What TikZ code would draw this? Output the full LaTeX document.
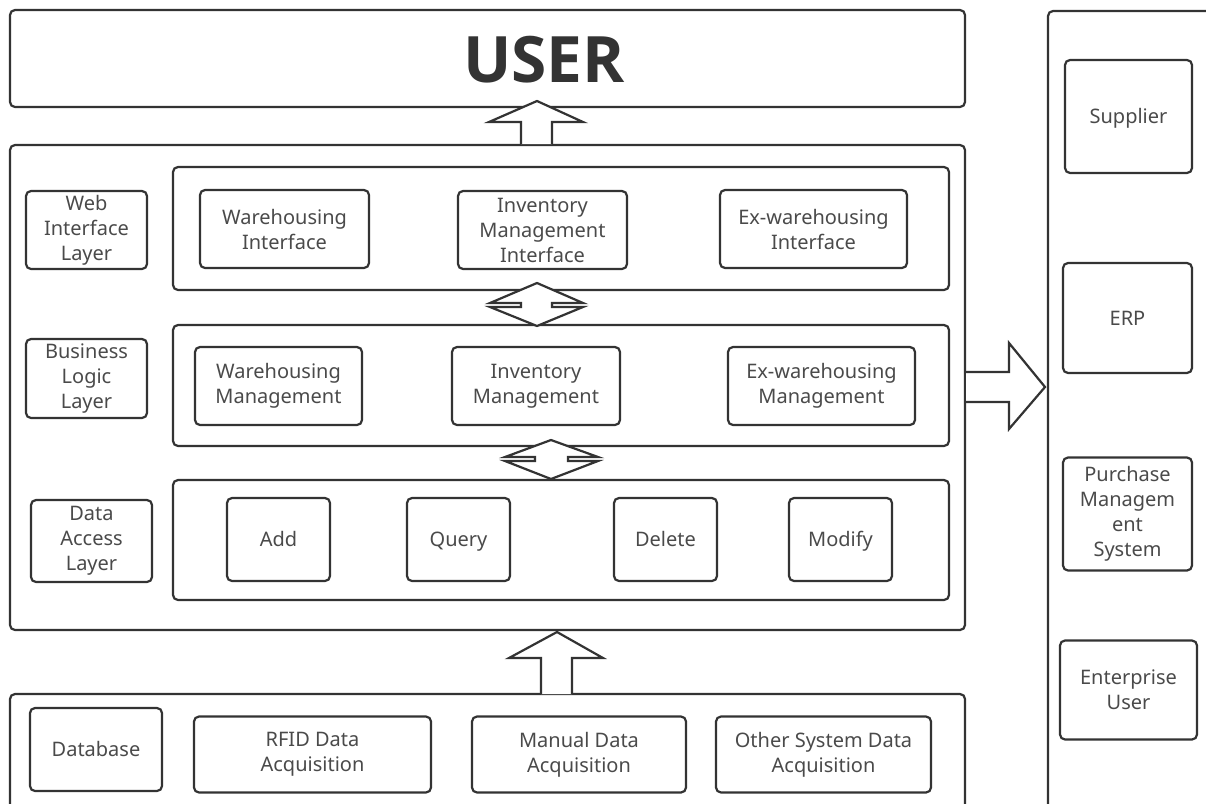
\documentclass[tikz,border=0pt]{standalone}
\usepackage{fontspec}
\setmainfont{Noto Sans}
\newfontfamily\titlefont{Open Sans}
\usepackage{xcolor}
\usepackage{tikz}
\usetikzlibrary{shapes.geometric, arrows}
\definecolor{linegray}{HTML}{333333}
\definecolor{textgray}{HTML}{4A4A4A}
\tikzstyle{outer} = [draw=linegray, line width=2.2pt, rounded corners=5pt]
\tikzstyle{inbox} = [draw=linegray, line width=2.2pt, rounded corners=5pt, align=center, text=textgray, font=\fontsize{20}{25}\selectfont, inner sep=0pt]
\tikzstyle{oneline} = [text height=20pt, text depth=6pt]
\tikzstyle{blockarrow} = [draw=linegray, line width=2.2pt, line join=miter, fill=white]

\begin{document}
\begin{tikzpicture}[x=1pt,y=-1pt]
	\useasboundingbox (0,0) rectangle (1206,803);
	\clip (0,0) rectangle (1206,803);

	% Top: user box
	\node[outer, minimum width=955, minimum height=97] (user) at (487.5,58.5) {};
	\node[text=linegray, font=\titlefont\fontsize{64}{64}\selectfont\bfseries, inner sep=0pt] (usertext) at (544,60) {USER};

	% Main system box and its three layers
	\node[outer, minimum width=955, minimum height=485] (system) at (487.5,387.5) {};
	\node[outer, minimum width=776, minimum height=123] (webrow) at (561,228.5) {};
	\node[outer, minimum width=776, minimum height=121] (logicrow) at (561,385.5) {};
	\node[outer, minimum width=776, minimum height=120] (datarow) at (561,540) {};

	% Layer names on the left
	\node[inbox, minimum width=121, minimum height=78] (weblayer) at (86.5,230) {Web\\Interface\\Layer};
	\node[inbox, minimum width=121, minimum height=79] (logiclayer) at (86.5,378.5) {Business\\Logic\\Layer};
	\node[inbox, minimum width=121, minimum height=82] (datalayer) at (91.5,541) {Data\\Access\\Layer};

	% Web interface layer
	\node[inbox, minimum width=169, minimum height=78] (whif) at (284.5,229) {Warehousing\\Interface};
	\node[inbox, minimum width=169, minimum height=78] (invif) at (542.5,230) {Inventory\\Management\\Interface};
	\node[inbox, minimum width=187, minimum height=78] (exif) at (813.5,229) {Ex-warehousing\\Interface};

	% Business logic layer
	\node[inbox, minimum width=167, minimum height=78] (whman) at (278.5,386) {Warehousing\\Management};
	\node[inbox, minimum width=168, minimum height=78] (invman) at (536,386) {Inventory\\Management};
	\node[inbox, minimum width=187, minimum height=78] (exman) at (821.5,386) {Ex-warehousing\\Management};

	% Data access layer
	\node[inbox, oneline, minimum width=103, minimum height=83] (add) at (278.5,539.5) {Add};
	\node[inbox, oneline, minimum width=103, minimum height=83] (query) at (458.5,539.5) {Query};
	\node[inbox, oneline, minimum width=103, minimum height=83] (delete) at (665.5,539.5) {Delete};
	\node[inbox, oneline, minimum width=103, minimum height=83] (modify) at (840.5,539.5) {Modify};

	% Bottom: data sources
	\node[outer, minimum width=955, minimum height=140] (sources) at (487.5,764) {};
	\node[inbox, oneline, minimum width=132, minimum height=83] (database) at (96,749.5) {Database};
	\node[inbox, minimum width=237, minimum height=76] (rfid) at (312.5,754.5) {RFID Data\\Acquisition};
	\node[inbox, minimum width=214, minimum height=76] (manual) at (579,754.5) {Manual Data\\Acquisition};
	\node[inbox, minimum width=215, minimum height=76] (other) at (823.5,754.5) {Other System Data\\Acquisition};

	% Right: external parties
	\node[outer, minimum width=200, minimum height=840] (external) at (1148,431) {};
	\node[inbox, oneline, minimum width=127, minimum height=113] (supplier) at (1128.5,116.5) {Supplier};
	\node[inbox, oneline, minimum width=129, minimum height=110] (erp) at (1127.5,318) {ERP};
	\node[inbox, minimum width=129, minimum height=113] (purchase) at (1127.5,514) {Purchase\\Managem\\ent\\System};
	\node[inbox, minimum width=137, minimum height=99] (enterprise) at (1128.5,690) {Enterprise\\User};

	% Block arrows between the parts
	\draw[blockarrow] (521,144) -- (521,122) -- (489,122) -- (537,101) -- (583,122) -- (552,122) -- (552,144);
	\draw[blockarrow] (541,694) -- (541,658) -- (509,658) -- (557,632) -- (603,658) -- (572,658) -- (572,694);
	\draw[blockarrow] (966,372) -- (1009,372) -- (1009,343) -- (1045,387) -- (1009,429) -- (1009,402) -- (966,402);

	% Double arrows between the layers
	\draw[blockarrow] (537,283) -- (583,303) -- (552,303) -- (552,307) -- (583,307) -- (537,326) -- (490,307) -- (521,307) -- (521,303) -- (490,303) -- cycle;
	\draw[blockarrow] (551,440) -- (598,457) -- (568,457) -- (568,461) -- (598,461) -- (551,479) -- (505,461) -- (535,461) -- (535,457) -- (505,457) -- cycle;

\end{tikzpicture}
\end{document}
